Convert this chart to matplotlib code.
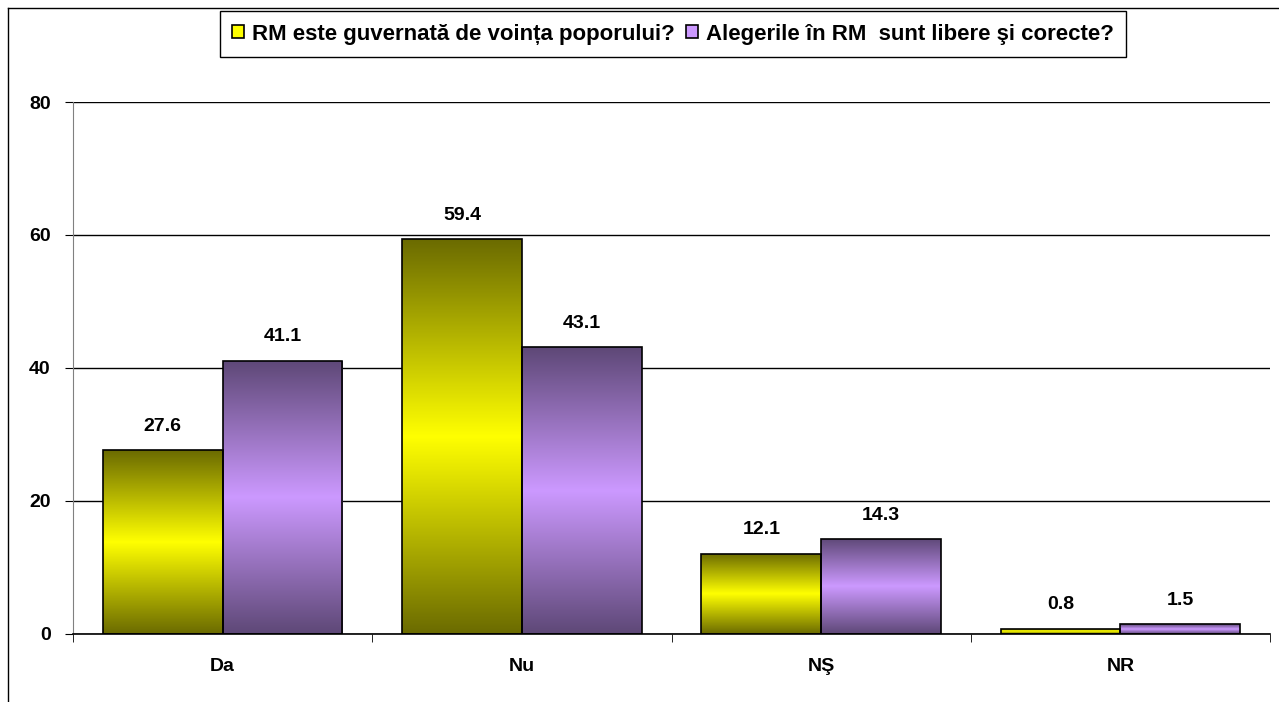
import numpy as np
import matplotlib
matplotlib.use("Agg")
from matplotlib import pyplot as plt
from matplotlib.colors import LinearSegmentedColormap
from matplotlib.patches import Rectangle
from matplotlib.lines import Line2D

categories = ["Da", "Nu", "NŞ", "NR"]
guvernata = [27.6, 59.4, 12.1, 0.8]
alegeri = [41.1, 43.1, 14.3, 1.5]
series_names = ["RM este guvernată de voința poporului?",
                "Alegerile în RM  sunt libere şi corecte?"]
yticks = [0, 20, 40, 60, 80]

plt.rcParams['font.family'] = ['Liberation Sans', 'DejaVu Sans']
plt.rcParams['font.weight'] = 'bold'

# dark at the edges, light in the middle
yellow_cmap = LinearSegmentedColormap.from_list("yel", ["#6b6b00", "#ffff00", "#6b6b00"])
purple_cmap = LinearSegmentedColormap.from_list("pur", ["#5e4877", "#cc99ff", "#5e4877"])

fig = plt.figure(figsize=(12.79, 7.02), dpi=100)
ax = fig.add_axes([0.0571, 0.0969, 0.9359, 0.7578])

x = np.arange(len(categories))
w = 0.4
bars1 = ax.bar(x - w / 2, guvernata, w, facecolor="none", edgecolor="black", linewidth=1.2, zorder=3)
bars2 = ax.bar(x + w / 2, alegeri, w, facecolor="none", edgecolor="black", linewidth=1.2, zorder=3)

grad = np.linspace(0, 1, 256).reshape(-1, 1)
for bars, cmap in [(bars1, yellow_cmap), (bars2, purple_cmap)]:
    for b in bars:
        x0, y0 = b.get_x(), b.get_y()
        img = ax.imshow(grad, cmap=cmap, aspect="auto", origin="upper",
                        extent=[x0, x0 + b.get_width(), y0, y0 + b.get_height()], zorder=2)
        img.set_clip_path(b)
    for b in bars:
        ax.annotate(f"{b.get_height():.1f}", (b.get_x() + b.get_width() / 2, b.get_height()),
                    xytext=(0, 11), textcoords="offset points", ha="center", va="bottom",
                    fontsize=14, fontweight="bold")

ax.set_xlim(-0.5, len(categories) - 0.5)
ax.set_ylim(0, 80)
ax.set_yticks(yticks)
ax.set_yticklabels([str(t) for t in yticks], fontsize=14, fontweight="bold")
ax.set_xticks(x)
ax.set_xticklabels(categories, fontsize=14, fontweight="bold")
ax.set_xticks(np.arange(len(categories) + 1) - 0.5, minor=True)
ax.tick_params(axis="x", which="major", length=0, pad=17)
ax.tick_params(axis="x", which="minor", length=6, direction="out", color="black")
ax.tick_params(axis="y", length=6, direction="out", pad=10, color="black")
ax.yaxis.grid(True, color="black", linewidth=1)
ax.set_axisbelow(True)
for s in ["top", "right"]:
    ax.spines[s].set_visible(False)
ax.spines["left"].set_color("#808080")
ax.spines["bottom"].set_color("black")
ax.spines["bottom"].set_linewidth(1.2)

handles = [Rectangle((0, 0), 1, 1, facecolor="#ffff00", edgecolor="black", linewidth=1.2),
           Rectangle((0, 0), 1, 1, facecolor="#cc99ff", edgecolor="black", linewidth=1.2)]
leg = fig.legend(handles, series_names, loc="center", bbox_to_anchor=(0.526, 0.9515), ncol=2,
                 fancybox=False, edgecolor="black", framealpha=1, handlelength=0.55, handleheight=0.55,
                 handletextpad=0.35, columnspacing=0.5, borderpad=0.55,
                 prop={"size": 16, "weight": "bold"})
leg.get_frame().set_linewidth(1)

# outer frame (left and top edges)
fig.add_artist(Line2D([0.00625, 0.00625], [0, 0.9886], color="black", linewidth=1))
fig.add_artist(Line2D([0.00625, 1], [0.9886, 0.9886], color="black", linewidth=1))

plt.savefig("out.png", dpi=100)
